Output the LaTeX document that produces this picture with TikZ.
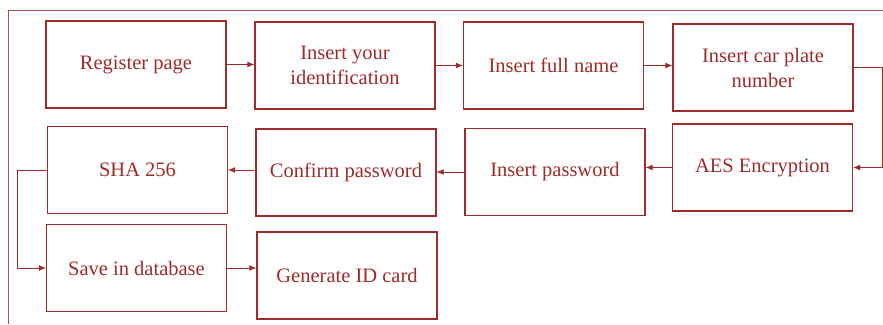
\documentclass[tikz,border=0pt]{standalone}
\usepackage{fontspec}
\setmainfont{Liberation Serif}
\usepackage{xcolor}
\usepackage{tikz}
\usetikzlibrary{arrows.meta}

\definecolor{brick}{RGB}{158,42,42}
\tikzset{
  procbox/.style={draw=brick, line width=1.1pt, text=brick, minimum width=180pt,
    minimum height=87pt, align=center, inner sep=0pt,
    font=\fontsize{20.5}{25}\selectfont},
  flow/.style={draw=brick, line width=1pt, -{Latex[length=7pt,width=6pt]}},
}

\begin{document}
\begin{tikzpicture}[x=1pt, y=-1pt]
\useasboundingbox (0,0) rectangle (883,324);

%%    FRAME   %%
\coordinate (fr1) at (883,10);
\coordinate (fr2) at (8,10);
\coordinate (fr3) at (8,324);
\draw [brick!85, line width=0.9pt] (fr1) -- (fr2) -- (fr3);

%%    NODES   %%
\node[procbox] (reg) at (136,64.5) {Register page};
\node[procbox] (ident) at (345,65.5) {Insert your\\identification};
\node[procbox] (name) at (553.5,65.5) {Insert full name};
\node[procbox] (plate) at (763,67.5) {Insert car plate\\number};
\node[procbox] (aes) at (762.5,167.5) {AES Encryption};
\node[procbox] (inspw) at (555,172) {Insert password};
\node[procbox] (confirm) at (346,172.5) {Confirm password};
\node[procbox] (sha) at (137.5,170) {SHA 256};
\node[procbox] (save) at (136.5,268) {Save in database};
\node[procbox] (card) at (347,275.5) {Generate ID card};

%%    ARROWS    %%
\draw [flow] (reg.east) -- (reg.east -| ident.west);
\draw [flow] (ident.east) -- (ident.east -| name.west);
\draw [flow] (name.east) -- (name.east -| plate.west);
\draw [flow] (plate.east) -- ++(29,0) |- (aes.east);
\draw [flow] (aes.west) -- (aes.west -| inspw.east);
\draw [flow] (inspw.west) -- (inspw.west -| confirm.east);
\draw [flow] (sha.east -| confirm.west) -- (sha.east);
\draw [flow] (sha.west) -- ++(-29,0) |- (save.west);
\draw [flow] (save.east) -- (save.east -| card.west);

\end{tikzpicture}
\end{document}
